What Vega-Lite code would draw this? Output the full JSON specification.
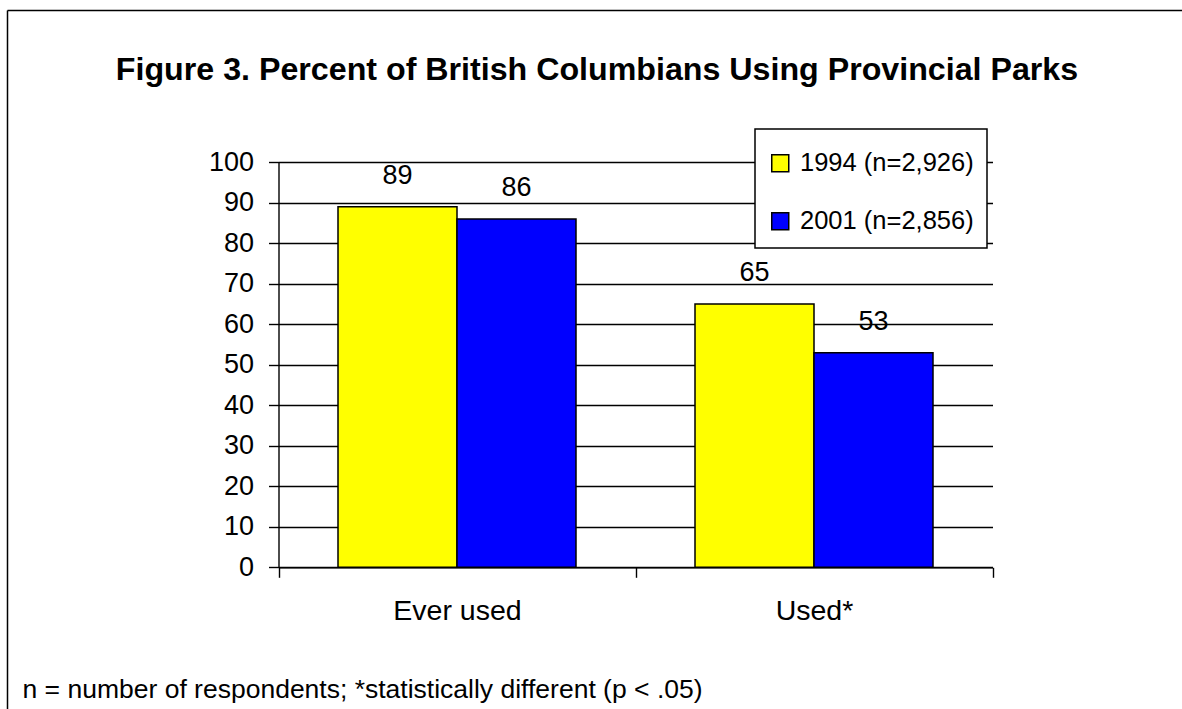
{
  "$schema": "https://vega.github.io/schema/vega-lite/v6.json",
  "width": 1175,
  "height": 699,
  "autosize": {"type": "none"},
  "padding": {"left": 7, "top": 10, "right": 0, "bottom": 0},
  "background": "white",
  "title": {
    "text": "Figure 3.  Percent of British Columbians Using Provincial Parks",
    "fontSize": 32.2,
    "fontWeight": "bold",
    "color": "black",
    "anchor": "middle",
    "frame": "group",
    "baseline": "alphabetic",
    "dx": 2.5,
    "offset": -102.5
  },
  "data": {
    "values": [
      {"use": "Ever used", "survey": "1994 (n=2,926)", "percent": 89},
      {"use": "Ever used", "survey": "2001 (n=2,856)", "percent": 86},
      {"use": "Used*", "survey": "1994 (n=2,926)", "percent": 65},
      {"use": "Used*", "survey": "2001 (n=2,856)", "percent": 53}
    ]
  },
  "layer": [
    {
      "encoding": {
        "x": {
          "field": "use",
          "type": "nominal",
          "sort": null,
          "title": "n = number of respondents; *statistically different (p < .05)",
          "scale": {"range": [271.5, 985.5], "paddingInner": 0, "paddingOuter": 0},
          "axis": {
            "orient": "bottom",
            "offset": -141.7,
            "labelAngle": 0,
            "labelFontSize": 28.5,
            "labelBaseline": "alphabetic",
            "labelPadding": 41.7,
            "tickBand": "extent",
            "tickSize": 10,
            "grid": false,
            "titleFontSize": 26.5,
            "titleFontWeight": "normal",
            "titleAnchor": "start",
            "titleAlign": "left",
            "titleBaseline": "alphabetic",
            "titleX": 15,
            "titleY": 129.7
          }
        },
        "xOffset": {
          "field": "survey",
          "type": "nominal",
          "sort": null,
          "scale": {"paddingInner": 0, "paddingOuter": 0.5}
        },
        "y": {
          "field": "percent",
          "type": "quantitative",
          "title": null,
          "scale": {"domain": [0, 100], "nice": false, "range": [557.3, 152.3]},
          "axis": {
            "orient": "left",
            "offset": -271.5,
            "values": [0, 10, 20, 30, 40, 50, 60, 70, 80, 90, 100],
            "labelFontSize": 27,
            "labelPadding": 15,
            "tickSize": 10,
            "grid": true
          }
        }
      },
      "layer": [
        {
          "mark": {"type": "bar", "stroke": "black", "strokeWidth": 1.5},
          "encoding": {
            "color": {
              "field": "survey",
              "type": "nominal",
              "sort": null,
              "scale": {"range": ["#FFFF00", "#0000FF"]},
              "legend": {
                "title": " ",
                "titleFontSize": 6,
                "titlePadding": 3,
                "orient": "none",
                "legendX": 748,
                "legendY": 119,
                "symbolType": "square",
                "symbolSize": 289,
                "symbolStrokeColor": "black",
                "symbolStrokeWidth": 1.5,
                "labelFontSize": 25.5,
                "labelOffset": 7,
                "labelColor": "black",
                "labelLimit": 400,
                "rowPadding": 31,
                "padding": 12.5,
                "fillColor": "white",
                "strokeColor": "black",
                "encode": {"legend": {"update": {"strokeWidth": {"value": 1.5}}}}
              }
            }
          }
        },
        {
          "mark": {"type": "text", "dy": -23, "fontSize": 27, "baseline": "alphabetic", "align": "center", "color": "black"},
          "encoding": {
            "text": {"field": "percent", "type": "quantitative"}
          }
        }
      ]
    },
    {
      "mark": {"type": "point", "opacity": 0},
      "encoding": {
        "x": {
          "datum": 0,
          "type": "quantitative",
          "scale": {"domain": [0, 1]},
          "axis": {"orient": "top", "domain": true, "ticks": false, "labels": false, "grid": false, "title": null, "domainWidth": 1.5, "offset": 0}
        },
        "y": {
          "datum": 0,
          "type": "quantitative",
          "scale": {"domain": [0, 1]},
          "axis": {"orient": "right", "domain": true, "ticks": false, "labels": false, "grid": false, "title": null, "domainWidth": 1.5, "offset": -1175}
        }
      }
    }
  ],
  "resolve": {
    "scale": {"x": "independent", "y": "independent"},
    "axis": {"x": "independent", "y": "independent"}
  },
  "config": {
    "font": "Liberation Sans",
    "view": {"stroke": null},
    "axis": {
      "domainColor": "black",
      "domainWidth": 1.4,
      "tickColor": "black",
      "tickWidth": 1.4,
      "gridColor": "black",
      "gridWidth": 1.3,
      "gridOpacity": 1,
      "labelColor": "black",
      "titleColor": "black"
    }
  }
}
